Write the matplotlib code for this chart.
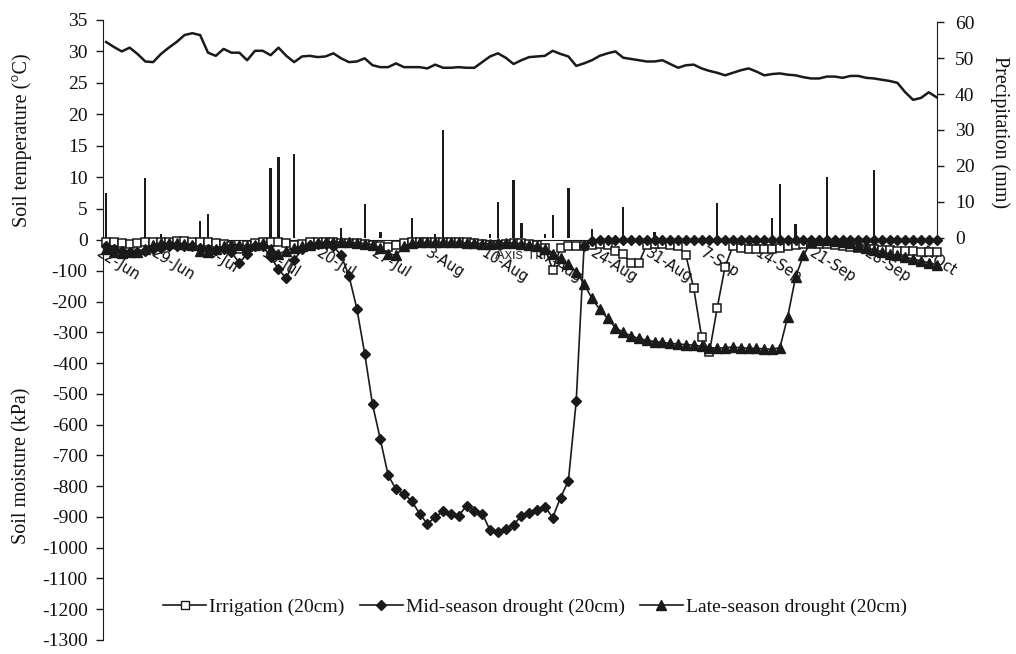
import matplotlib
matplotlib.use("Agg")
import matplotlib.pyplot as plt
import matplotlib.transforms as mtransforms
from matplotlib.lines import Line2D
from matplotlib.font_manager import FontProperties

# ---------------- data ----------------
date_labels = ["22-Jun", "29-Jun", "6-Jul", "13-Jul", "20-Jul", "27-Jul", "3-Aug",
               "10-Aug", "17-Aug", "24-Aug", "31-Aug", "7-Sep", "14-Sep", "21-Sep",
               "28-Sep", "5-Oct"]
label_days = [0, 7, 14, 21, 28, 35, 42, 49, 56, 63, 70, 77, 84, 91, 98, 105]

temperature = [31.5, 30.7, 30.0, 30.6, 29.6, 28.4, 28.3, 29.6, 30.6, 31.5,
               32.6, 32.9, 32.6, 29.8, 29.3, 30.4, 29.8, 29.8, 28.6, 30.1,
               30.1, 29.4, 30.6, 29.3, 28.3, 29.2, 29.3, 29.1, 29.2, 29.7,
               28.9, 28.3, 28.4, 28.9, 27.8, 27.5, 27.5, 28.1, 27.5, 27.5,
               27.5, 27.3, 27.9, 27.4, 27.4, 27.5, 27.4, 27.4, 28.3, 29.2,
               29.7, 29.0, 28.0, 28.6, 29.1, 29.2, 29.3, 30.1, 29.6, 29.2,
               27.7, 28.1, 28.6, 29.3, 29.7, 30.0, 29.0, 28.8, 28.6, 28.4,
               28.4, 28.6, 28.0, 27.4, 27.8, 27.9, 27.3, 26.9, 26.6, 26.2,
               26.6, 27.0, 27.3, 26.8, 26.2, 26.4, 26.5, 26.3, 26.2, 25.9,
               25.7, 25.7, 26.0, 26.0, 25.8, 26.1, 26.1, 25.8, 25.7, 25.5,
               25.3, 25.0, 23.5, 22.3, 22.6, 23.5, 22.7]

rain_days = [0, 5, 7, 12, 13, 21, 22, 24, 30, 33, 35, 39, 42, 43, 49, 50, 52, 53,
             56, 57, 59, 62, 66, 70, 78, 85, 86, 88, 92, 98]
rain_mm = [12.6, 16.7, 1.0, 4.6, 6.6, 19.5, 22.5, 23.3, 2.7, 9.3, 1.6, 5.5, 1.0, 30.1,
           1.2, 9.9, 16.2, 4.1, 1.2, 6.3, 14.0, 2.5, 8.7, 1.5, 9.6, 5.5, 15.1, 3.8,
           16.8, 18.9]

irrigation = [-5, -8, -10, -12, -10, -8, -6, -5, -5, -4,
              -4, -5, -6, -8, -10, -12, -20, -30, -15, -10,
              -8, -6, -6, -10, -15, -12, -8, -6, -5, -5,
              -10, -10, -10, -12, -15, -20, -22, -15, -10, -8,
              -8, -8, -8, -8, -8, -8, -8, -10, -12, -15,
              -15, -12, -10, -10, -12, -15, -25, -97, -25, -20,
              -20, -20, -15, -12, -15, -35, -45, -75, -75, -15,
              -12, -12, -15, -20, -50, -157, -314, -365, -220, -87,
              -20, -25, -28, -28, -28, -28, -25, -20, -15, -12,
              -12, -12, -12, -15, -18, -22, -25, -28, -30, -32,
              -33, -35, -36, -37, -38, -40, -40]

mid_drought = [-20, -30, -35, -38, -38, -35, -30, -25, -20, -18,
               -18, -20, -25, -30, -32, -30, -40, -75, -45, -20,
               -20, -55, -95, -125, -65, -30, -15, -12, -12, -20,
               -50, -117, -223, -369, -534, -648, -765, -810, -826, -848,
               -889, -923, -900, -882, -891, -896, -864, -880, -889, -943,
               -950, -940, -926, -896, -886, -878, -867, -902, -837, -783,
               -524, -20, -2, 0, 0, 0, 0, 0, 0, 0,
               0, 0, 0, 0, 0, 0, 0, 0, 0, 0,
               0, 0, 0, 0, 0, 0, 0, 0, 0, 0,
               0, 0, 0, 0, 0, 0, 0, 0, 0, 0,
               0, 0, 0, 0, 0, 0, 0]

late_drought = [-30, -40, -42, -40, -38, -30, -15, -10, -10, -10,
                -12, -15, -35, -40, -30, -20, -15, -15, -20, -15,
                -10, -30, -45, -35, -25, -20, -15, -10, -8, -5,
                -8, -8, -10, -12, -15, -25, -45, -50, -20, -10,
                -8, -8, -8, -8, -8, -8, -10, -10, -12, -12,
                -10, -10, -10, -12, -15, -20, -30, -45, -60, -78,
                -104, -142, -190, -225, -255, -285, -300, -312, -320, -326,
                -330, -333, -336, -338, -340, -342, -345, -350, -352, -350,
                -348, -350, -352, -352, -354, -355, -350, -249, -120, -50,
                -5, 0, 0, -2, -5, -10, -18, -25, -32, -38,
                -45, -50, -56, -62, -68, -74, -80]

temp_ticks = [0, 5, 10, 15, 20, 25, 30, 35]
moist_ticks = [-1300, -1200, -1100, -1000, -900, -800, -700, -600, -500, -400,
               -300, -200, -100]
rain_ticks = [0, 10, 20, 30, 40, 50, 60]

days = list(range(len(temperature)))

# ---------------- figure ----------------
W, H = 1016, 654
fig = plt.figure(figsize=(W / 100, H / 100), dpi=100)
ink = "#1a1a1a"
serif = "Liberation Serif"

L, R = 103 / W, 937 / W
ax_t = fig.add_axes([L, 1 - 240 / H, R - L, 220 / H])
ax_p = ax_t.twinx()
ax_m = fig.add_axes([L, 1 - 640 / H, R - L, 400 / H])
for a in (ax_t, ax_p, ax_m):
    a.set_facecolor("none")
    a.set_xlim(-0.4, 106.05)

# temperature axes
ax_t.set_ylim(0, 35)
ax_t.plot(days, temperature, color=ink, lw=1.8, solid_joinstyle="round")
for s in ("top", "right"):
    ax_t.spines[s].set_visible(False)
ax_t.spines["left"].set_color(ink)
ax_t.spines["bottom"].set_color(ink)
ax_t.set_yticks(temp_ticks)
ax_t.set_yticklabels([str(t) for t in temp_ticks], family=serif, fontsize=14, color="#111")
ax_t.tick_params(axis="y", direction="out", length=5, width=1, pad=6, color=ink)
ax_t.set_xticks([])

# date labels along the zero line
off = mtransforms.ScaledTranslation(-4 / 100, -5 / 100, fig.dpi_scale_trans)
for d, lab in zip(label_days, date_labels):
    ax_t.text(d, 0, lab, transform=ax_t.transData + off, rotation=-32,
              rotation_mode="anchor", ha="left", va="top", fontsize=10.5,
              family="DejaVu Sans", color="#111", clip_on=False)

# precipitation axes
ax_p.set_ylim(-0.6, 60.6)
ax_p.bar(rain_days, rain_mm, width=0.3, color=ink, linewidth=0)
for s in ("top", "left", "bottom"):
    ax_p.spines[s].set_visible(False)
ax_p.spines["right"].set_bounds(0, 60)
ax_p.spines["right"].set_color(ink)
ax_p.set_yticks(rain_ticks)
ax_p.set_yticklabels([str(t) for t in rain_ticks], family=serif, fontsize=14, color="#111")
ax_p.tick_params(axis="y", direction="out", length=5, width=1, pad=8, color=ink)

# soil moisture axes
ax_m.set_ylim(-1300, 0)
for s in ("top", "right", "bottom"):
    ax_m.spines[s].set_visible(False)
ax_m.spines["left"].set_color(ink)
ax_m.set_yticks(moist_ticks)
ax_m.set_yticklabels([str(t) for t in moist_ticks], family=serif, fontsize=14, color="#111")
ax_m.tick_params(axis="y", direction="out", length=5, width=1, pad=6, color=ink)
ax_m.set_xticks([])

ax_m.plot(days, irrigation, color=ink, lw=1.2, marker="s", ms=5.5,
          mfc="white", mec=ink, mew=1.1, clip_on=False, zorder=3)
ax_m.plot(days, mid_drought, color=ink, lw=1.2, marker="D", ms=5,
          mfc=ink, mec=ink, clip_on=False, zorder=4)
ax_m.plot(days, late_drought, color=ink, lw=1.2, marker="^", ms=7,
          mfc=ink, mec=ink, clip_on=False, zorder=5)

# leftover placeholder axis title partly hidden behind the data
fig.text(525 / W, 1 - 255 / H, "Axis Title", ha="center", va="center",
         fontsize=10.5, color="#333", family="Liberation Sans", zorder=-1)

# axis labels
fig.text(22 / W, 1 - 140 / H, "Soil temperature (°C)", rotation=90, ha="center",
         va="center", family=serif, fontsize=14.5, color="#111")
fig.text(22 / W, 1 - 466 / H, "Soil moisture (kPa)", rotation=90, ha="center",
         va="center", family=serif, fontsize=14.5, color="#111")
fig.text(1000 / W, 1 - 132 / H, "Precipitation (mm)", rotation=270, ha="center",
         va="center", family=serif, fontsize=14.5, color="#111")

# legend
handles = [
    Line2D([], [], color=ink, lw=1.2, marker="s", ms=5.5, mfc="white", mec=ink),
    Line2D([], [], color=ink, lw=1.2, marker="D", ms=5, mfc=ink, mec=ink),
    Line2D([], [], color=ink, lw=1.2, marker="^", ms=7, mfc=ink, mec=ink),
]
names = ["Irrigation (20cm)", "Mid-season drought (20cm)", "Late-season drought (20cm)"]
fig.legend(handles, names, loc="center", bbox_to_anchor=(535 / W, 1 - 607 / H),
           ncol=3, frameon=False, prop=FontProperties(family=serif, size=14),
           handlelength=2.2, handletextpad=0.15, columnspacing=0.8,
           labelcolor="#111")

fig.savefig("out.png", dpi=100)
